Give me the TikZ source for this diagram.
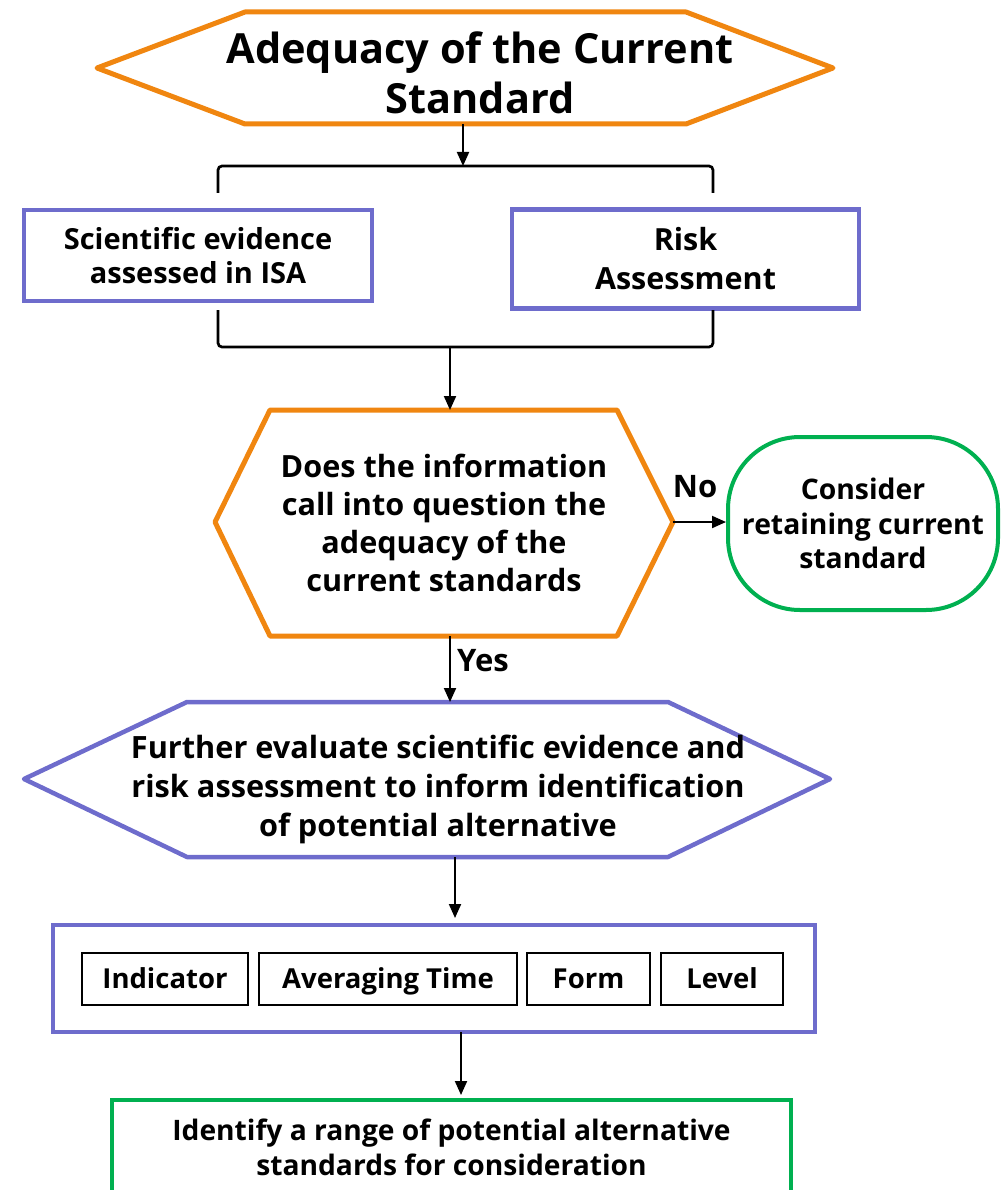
\documentclass[tikz,border=0pt]{standalone}
\usepackage{fontspec}
\setmainfont{Open Sans}
\usetikzlibrary{arrows.meta}
\definecolor{HexOrange}{RGB}{240,134,16}
\definecolor{BoxBlue}{RGB}{110,108,204}
\definecolor{BoxGreen}{RGB}{0,176,80}
\tikzset{
  flow/.style={-{Triangle[length=14pt,width=12pt]}, line width=2pt},
  BlockText/.style={align=center, inner sep=0pt},
  BlueBox/.style={draw=BoxBlue, line width=4.5pt},
  GreenBox/.style={draw=BoxGreen, line width=4pt},
  Brace/.style={line width=2.7pt, rounded corners=4pt},
  PartBox/.style={draw, line width=2.7pt, minimum height=52pt, text height=22pt, text depth=4pt,
    font=\fontsize{27.5}{34}\selectfont\bfseries},
  FlowLabel/.style={font=\fontsize{31}{34}\selectfont\bfseries, inner sep=0pt},
}

\begin{document}
\begin{tikzpicture}[x=1pt, y=-1pt]

    \useasboundingbox (0, 0) rectangle (1005, 1190);

    % Titulo

    \draw[HexOrange, line width=5pt, line join=round]
    (97, 68) -- (245, 12) -- (686, 12) -- (833, 68) -- (686, 124) -- (245, 124) -- cycle;
    \node[BlockText, font=\fontsize{41.5}{50}\selectfont\bfseries] (title) at (480, 73)
    {Adequacy of the Current\\Standard};
    \coordinate (titleS) at (463, 124);
    \coordinate (braceN) at (463, 166);

    % Evidencia

    \draw[Brace] (218, 193) -- (218, 166) -- (713, 166) -- (713, 193);
    \node[BlueBox, minimum width=348pt, minimum height=91pt,
      font=\fontsize{29}{34}\selectfont\bfseries, align=center] (isa) at (198, 255.5)
    {Scientific evidence\\assessed in ISA};
    \node[BlueBox, minimum width=347pt, minimum height=99pt,
      font=\fontsize{30.5}{39}\selectfont\bfseries, align=center] (risk) at (685.5, 259)
    {Risk\\Assessment};
    \draw[Brace] (218, 310) -- (218, 347) -- (713, 347) -- (713, 310);
    \coordinate (braceS) at (450, 347);

    % Pregunta

    \coordinate (askN) at (450, 410);
    \coordinate (askE) at (673, 522);
    \coordinate (askS) at (450, 636);
    \draw[HexOrange, line width=5pt, line join=round]
    (215, 522) -- (270, 410) -- (617, 410) -- (673, 522) -- (617, 636) -- (270, 636) -- cycle;
    \node[BlockText, font=\fontsize{30.6}{38}\selectfont\bfseries] (ask) at (444, 523)
    {Does the information\\call into question the\\adequacy of the\\current standards};

    \node[GreenBox, rounded corners=72pt, minimum width=270pt, minimum height=173pt,
      font=\fontsize{28.3}{34.5}\selectfont\bfseries, align=center] (retain) at (863, 523.5)
    {Consider\\retaining current\\standard};

    \draw[flow] (askE) -- (askE -| retain.west);
    \node[FlowLabel] (no) at (695, 487) {No};

    % Evaluar

    \coordinate (evalN) at (450, 702);
    \coordinate (evalS) at (455, 857);
    \draw[BoxBlue, line width=4.5pt, line join=round]
    (24, 779) -- (187, 702) -- (668, 702) -- (830, 779) -- (668, 857) -- (187, 857) -- cycle;
    \node[BlockText, font=\fontsize{30.7}{39}\selectfont\bfseries] (eval) at (438, 789)
    {Further evaluate scientific evidence and\\risk assessment to inform identification\\of potential alternative};

    \draw[flow] (askS) -- (evalN);
    \node[FlowLabel] (yes) at (483, 661) {Yes};

    % Elementos

    \node[BlueBox, minimum width=762pt, minimum height=107pt] (parts) at (434, 978.5) {};
    \node[PartBox, minimum width=166pt] (indicator) at (165, 979) {Indicator};
    \node[PartBox, minimum width=258pt] (avgtime) at (388, 979) {Averaging Time};
    \node[PartBox, minimum width=123pt] (form) at (588.5, 979) {Form};
    \node[PartBox, minimum width=122pt] (level) at (722, 979) {Level};
    \coordinate (partsN) at (455, 918);
    \coordinate (partsS) at (461, 1032);

    \draw[flow] (evalS) -- (partsN);

    % Alternativas

    \node[GreenBox, minimum width=679pt, minimum height=95pt,
      font=\fontsize{28.2}{35}\selectfont\bfseries, align=center] (alt) at (451.5, 1147.5)
    {Identify a range of potential alternative\\standards for consideration};
    \coordinate (altN) at (461, 1095);

    \draw[flow] (titleS) -- (braceN);
    \draw[flow] (braceS) -- (askN);
    \draw[flow] (partsS) -- (altN);

\end{tikzpicture}
\end{document}
